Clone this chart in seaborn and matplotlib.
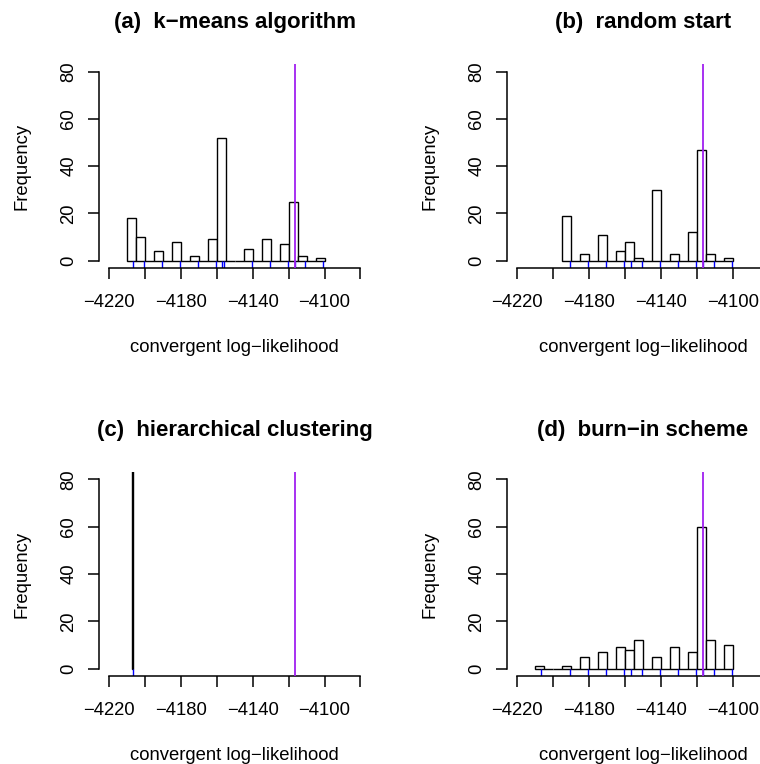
import numpy as np
import pandas as pd
import matplotlib
matplotlib.use("Agg")
import matplotlib.pyplot as plt
import seaborn as sns

# ---------------- data ----------------
titles = ["(a)  k\u2212means algorithm", "(b)  random start",
          "(c)  hierarchical clustering", "(d)  burn\u2212in scheme"]
xlabel = "convergent log\u2212likelihood"
ylabel = "Frequency"

bin_width = 5.0
a_start = -4210
a_counts = [18, 10, 0, 4, 0, 8, 0, 2, 0, 9, 52, 0, 0, 5, 0, 9, 0, 7, 25, 2, 0, 1]
b_start = -4195
b_counts = [19, 0, 3, 0, 11, 0, 4, 8, 1, 0, 30, 0, 3, 0, 12, 47, 3, 0, 1]
c_start = -4207.0
c_counts = [150]
c_bin_width = 0.3
d_start = -4210
d_counts = [1, 0, 0, 1, 0, 5, 0, 7, 0, 9, 8, 12, 0, 5, 0, 9, 0, 7, 60, 12, 0, 10]

a_rug = [-4206.8, -4200.5, -4190.5, -4180.5, -4170.5, -4160.2, -4156.9, -4155.9,
         -4140.5, -4130.5, -4120.4, -4116.7, -4110.7, -4100.6]
b_rug = [-4190.6, -4180.6, -4170.6, -4160.4, -4156.9, -4150.7, -4140.6, -4130.6,
         -4120.5, -4116.8, -4110.7, -4100.5]
c_rug = [-4206.8]
d_rug = [-4206.9, -4190.6, -4180.6, -4170.6, -4160.4, -4156.9, -4150.7, -4140.6,
         -4130.6, -4120.5, -4116.8, -4110.7, -4100.5]

true_loglik = -4116.6

x_ticks = [-4220, -4200, -4180, -4160, -4140, -4120, -4100, -4080]
x_ticklabels = ["\u22124220", "", "\u22124180", "", "\u22124140", "", "\u22124100", ""]
y_ticks = [0, 20, 40, 60, 80]
y_ticklabels = ["0", "20", "40", "60", "80"]

# ---------------- style ----------------
sns.set_style("ticks")
plt.rcParams["font.family"] = ["Liberation Sans", "DejaVu Sans"]
plt.rcParams.update({"text.color": "black", "axes.labelcolor": "black",
                     "xtick.color": "black", "ytick.color": "black",
                     "axes.edgecolor": "black"})

W, H = 760, 764
fig = plt.figure(figsize=(W / 100, H / 100), dpi=100)

ax_w, ax_h = 271.5 / W, 204.3 / H
positions = [(99 / W, 1 - 268.3 / H), (507.3 / W, 1 - 268.3 / H),
             (99 / W, 1 - 676.2 / H), (507.3 / W, 1 - 676.2 / H)]

panels = [
    (a_start, a_counts, bin_width, a_rug),
    (b_start, b_counts, bin_width, b_rug),
    (c_start, c_counts, c_bin_width, c_rug),
    (d_start, d_counts, bin_width, d_rug),
]

for (start, counts, bw, rug), title, (px, py) in zip(panels, titles, positions):
    ax = fig.add_axes([px, py, ax_w, ax_h])
    counts = np.asarray(counts, dtype=float)
    n = len(counts)
    centers = start + bw * (np.arange(n) + 0.5)
    df = pd.DataFrame({"x": centers, "w": counts})
    sns.histplot(data=df, x="x", weights="w", bins=n,
                 binrange=(start, start + bw * n), ax=ax,
                 color="white", edgecolor="black", linewidth=1.0, alpha=1.0)
    sns.rugplot(x=rug, ax=ax, height=0.036, color="blue", lw=1.7,
                expand_margins=False)
    ax.axvline(true_loglik, color="#A020F0", lw=1.3, zorder=5)

    ax.set_xlim(-4225.6, -4074.4)
    ax.set_ylim(-3.2, 83.2)
    for s in ["top", "right"]:
        ax.spines[s].set_visible(False)
    ax.spines["left"].set_bounds(0, 80)
    ax.spines["bottom"].set_bounds(-4220, -4080)
    for s in ["left", "bottom"]:
        ax.spines[s].set_linewidth(1.1)
        ax.spines[s].set_color("black")

    ax.set_xticks(x_ticks)
    ax.set_xticklabels(x_ticklabels, fontsize=13.3, color="black")
    ax.set_yticks(y_ticks)
    ax.set_yticklabels(y_ticklabels, fontsize=13.3, rotation=90, va="center",
                       color="black")
    ax.tick_params(axis="x", length=7.7, width=1.1, pad=11, color="black")
    ax.tick_params(axis="y", length=7.7, width=1.1, pad=8, color="black")

    ax.set_xlabel(xlabel, fontsize=13.3, va="center", color="black")
    ax.xaxis.set_label_coords(0.5, -79 / 204.3)
    ax.set_ylabel(ylabel, fontsize=13.3, va="center", color="black")
    ax.yaxis.set_label_coords(-77 / 271.5, 0.5)
    ax.set_title(title, fontsize=16, fontweight="bold", y=1 + 36 / 204.3,
                 va="baseline", pad=0, color="black")
    ax.grid(False)

fig.savefig("out.png", dpi=100)
